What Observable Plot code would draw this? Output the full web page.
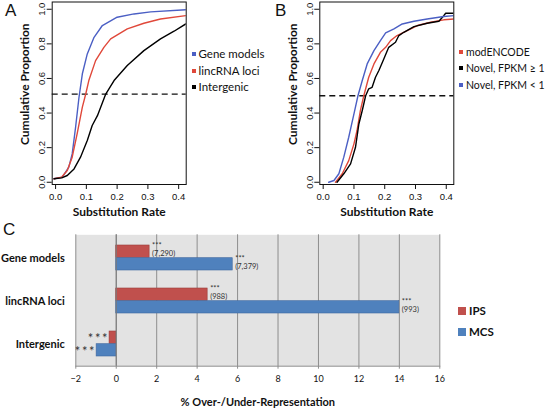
<!DOCTYPE html>
<html>
<head>
<meta charset="utf-8">
<script src="https://cdn.jsdelivr.net/npm/d3@7"></script>
<script src="https://cdn.jsdelivr.net/npm/@observablehq/plot@0.6"></script>
<style>
  html, body { margin: 0; padding: 0; background: #fff; }
  #root { position: relative; width: 548px; height: 408px; overflow: hidden; background: #fff; }
  #root svg { position: absolute; overflow: visible; }
  .lbl { position: absolute; font-family: "Liberation Sans", Arial, sans-serif; font-size: 17px; color: #111; line-height: 1; }
  .leg { position: absolute; font-family: Lato, "Open Sans", sans-serif; font-size: 11.5px; color: #111; white-space: nowrap; }
  .leg.small { font-size: 10.5px; }
  .leg .it { position: absolute; left: 0; white-space: nowrap; line-height: 1; }
  .leg .sw { display: inline-block; width: 4px; height: 4px; margin-right: 3px; vertical-align: middle; position: relative; top: -1px; }
  .legC { position: absolute; font-family: Lato, "Open Sans", sans-serif; font-size: 11.5px; font-weight: bold; color: #111; }
  .legC .it { position: absolute; left: 0; white-space: nowrap; line-height: 1; }
  .legC .sw { display: inline-block; width: 8px; height: 8px; margin-right: 3px; vertical-align: middle; position: relative; top: -1px; }
</style>
</head>
<body>
<div id="root"></div>
<script>
// ---------- Panel A data ----------
const seriesA = ["Gene models", "lincRNA loci", "Intergenic"];
const colorsA = ["#4b5fc4", "#e0483a", "#000000"];
const geneModelsX = [-0.005, 0.022, 0.043, 0.054, 0.065, 0.076, 0.087, 0.103, 0.125, 0.152, 0.2, 0.255, 0.309, 0.423];
const geneModelsY = [0.02, 0.03, 0.087, 0.164, 0.318, 0.49, 0.627, 0.742, 0.838, 0.906, 0.954, 0.973, 0.985, 0.997];
const lincX = [-0.005, 0.02, 0.038, 0.054, 0.07, 0.087, 0.098, 0.108, 0.13, 0.157, 0.179, 0.233, 0.287, 0.341, 0.423];
const lincY = [0.02, 0.03, 0.068, 0.145, 0.28, 0.434, 0.51, 0.588, 0.703, 0.78, 0.829, 0.887, 0.919, 0.944, 0.963];
const intergenicX = [-0.005, 0.02, 0.038, 0.06, 0.081, 0.103, 0.119, 0.136, 0.163, 0.19, 0.233, 0.287, 0.341, 0.385, 0.423];
const intergenicY = [0.02, 0.025, 0.039, 0.077, 0.145, 0.241, 0.328, 0.385, 0.51, 0.588, 0.675, 0.761, 0.829, 0.873, 0.915];
const medianA = 0.51;

// ---------- Panel B data ----------
const seriesB = ["modENCODE", "Novel, FPKM \u2265 1", "Novel, FPKM < 1"];
const colorsB = ["#e0483a", "#000000", "#4b5fc4"];
const modencodeX = [0.04, 0.062, 0.083, 0.1, 0.11, 0.121, 0.132, 0.148, 0.165, 0.186, 0.203, 0.219, 0.24, 0.273, 0.306, 0.349, 0.392, 0.425];
const modencodeY = [0, 0.049, 0.125, 0.222, 0.299, 0.415, 0.5, 0.607, 0.684, 0.751, 0.78, 0.819, 0.848, 0.877, 0.906, 0.925, 0.939, 0.944];
const novelHighX = [0.045, 0.067, 0.089, 0.105, 0.116, 0.127, 0.138, 0.148, 0.159, 0.17, 0.181, 0.197, 0.213, 0.235, 0.246, 0.262, 0.295, 0.338, 0.376, 0.392, 0.398, 0.425];
const novelHighY = [0, 0.049, 0.106, 0.202, 0.337, 0.415, 0.5, 0.54, 0.549, 0.607, 0.646, 0.713, 0.78, 0.809, 0.848, 0.867, 0.9, 0.919, 0.931, 0.963, 0.977, 0.977];
const novelLowX = [0.018, 0.035, 0.051, 0.067, 0.083, 0.1, 0.113, 0.127, 0.143, 0.165, 0.186, 0.203, 0.23, 0.257, 0.295, 0.338, 0.392, 0.425];
const novelLowY = [0, 0.01, 0.049, 0.145, 0.26, 0.395, 0.5, 0.588, 0.684, 0.761, 0.819, 0.863, 0.887, 0.915, 0.931, 0.944, 0.958, 0.963];
const medianB = 0.5;

const cdfXTicks = [0, 0.1, 0.2, 0.3, 0.4];
const cdfYTicks = [0, 0.2, 0.4, 0.6, 0.8, 1.0];
const cdfXTitle = "Substitution Rate";
const cdfYTitle = "Cumulative Proportion";

// ---------- Panel C data ----------
const categoriesC = ["Gene models", "lincRNA loci", "Intergenic"];
const seriesC = ["IPS", "MCS"];
const colorsC = ["#c0504d", "#4f81bd"];
const strokesC = ["#9a3d3a", "#3f68a0"];
const ipsValues = [1.65, 4.52, -0.33];
const mcsValues = [5.76, 14.0, -0.97];
const ipsCounts = ["(7,290)", "(988)", ""];
const mcsCounts = ["(7,379)", "(993)", ""];
const significance = ["***", "***", "***"];
const xTicksC = [-2, 0, 2, 4, 6, 8, 10, 12, 14, 16];
const xTitleC = "% Over-/Under-Representation";

// ---------- build tables ----------
function toRows(name, xs, ys) { return xs.map((x, i) => ({series: name, x, y: ys[i]})); }
const dataA = [
  ...toRows(seriesA[0], geneModelsX, geneModelsY),
  ...toRows(seriesA[1], lincX, lincY),
  ...toRows(seriesA[2], intergenicX, intergenicY)
];
const dataB = [
  ...toRows(seriesB[0], modencodeX, modencodeY),
  ...toRows(seriesB[1], novelHighX, novelHighY),
  ...toRows(seriesB[2], novelLowX, novelLowY)
];
const ipsRows = categoriesC.map((c, i) => ({category: c, value: ipsValues[i], stars: significance[i], count: ipsCounts[i]}));
const mcsRows = categoriesC.map((c, i) => ({category: c, value: mcsValues[i], stars: significance[i], count: mcsCounts[i]}));
const spacedStars = s => s.split("").join("\u2009");

const root = document.getElementById("root");

function cdfPlot(data, series, colors, median, opts) {
  return Plot.plot({
    width: opts.width, height: 218,
    marginLeft: opts.ml, marginRight: opts.mr, marginTop: 1.5, marginBottom: 34,
    x: {domain: [-0.011, 0.4245]},
    y: {domain: [-0.013, 1.042]},
    color: {domain: series, range: colors},
    style: {fontFamily: "'Liberation Sans', Arial, sans-serif", fontSize: "9.5px", background: "transparent", color: "#111"},
    marks: [
      Plot.ruleY([median], {strokeDasharray: "6,4", strokeWidth: 1.3, stroke: "#111"}),
      Plot.line(data, {x: "x", y: "y", z: "series", stroke: "series", strokeWidth: 1.4, clip: true}),
      Plot.frame({stroke: "#111", strokeWidth: 1}),
      Plot.axisX({ticks: cdfXTicks, tickFormat: d3.format(".1f"), tickSize: 5, tickPadding: 4, label: null}),
      Plot.axisY({ticks: cdfYTicks, tickFormat: d3.format(".1f"), tickSize: 5, tickRotate: -90, tickPadding: 2, label: null}),
      Plot.text([cdfXTitle], {frameAnchor: "bottom", text: d => d, dy: 28, lineAnchor: "middle", textAnchor: "middle",
        fontFamily: "Lato, 'Open Sans', sans-serif", fontWeight: "bold", fontSize: 12}),
      Plot.text([cdfYTitle], {frameAnchor: "left", text: d => d, dx: -27, dy: -9, rotate: -90, lineAnchor: "middle", textAnchor: "middle",
        fontFamily: "Lato, 'Open Sans', sans-serif", fontWeight: "bold", fontSize: 12})
    ]
  });
}

const svgA = cdfPlot(dataA, seriesA, colorsA, medianA, {width: 270, ml: 51.7, mr: 84.3});
svgA.style.left = "0px"; svgA.style.top = "0px";
root.appendChild(svgA);

const svgB = cdfPlot(dataB, seriesB, colorsB, medianB, {width: 280, ml: 51.3, mr: 94.7});
svgB.style.left = "268px"; svgB.style.top = "0px";
root.appendChild(svgB);

// ---------- Panel C ----------
const bandC = 25.4;
const halfC = bandC / 2;
const svgC = Plot.plot({
  width: 548, height: 182,
  marginLeft: 75.3, marginRight: 108.7, marginTop: 8.3, marginBottom: 42.3,
  x: {domain: [-2, 16]},
  y: {domain: categoriesC, paddingInner: 0.42, paddingOuter: 0.21},
  style: {fontFamily: "Lato, 'Open Sans', sans-serif", fontSize: "9px", background: "transparent", color: "#111"},
  marks: [
    Plot.frame({fill: "#e3e3e3", stroke: null}),
    Plot.ruleX(xTicksC, {stroke: "#8e8e8e", strokeWidth: 1, insetBottom: -3}),
    Plot.frame({anchor: "bottom", stroke: "#8e8e8e"}),
    Plot.barX(ipsRows, {x: "value", y: "category", fill: colorsC[0], stroke: strokesC[0], strokeWidth: 0.6, insetBottom: halfC}),
    Plot.barX(mcsRows, {x: "value", y: "category", fill: colorsC[1], stroke: strokesC[1], strokeWidth: 0.6, insetTop: halfC}),
    Plot.ruleX([0], {stroke: "#7a7a7a", strokeWidth: 1}),
    Plot.text(ipsRows.filter(d => d.value > 0), {x: "value", y: "category", text: d => d.stars + "\n" + d.count,
      dx: 2.5, dy: -halfC / 2 - 2, textAnchor: "start", lineAnchor: "middle", lineHeight: 1, fontSize: 7.5, fill: "#333"}),
    Plot.text(mcsRows.filter(d => d.value > 0), {x: "value", y: "category", text: d => d.stars + "\n" + d.count,
      dx: 2.5, dy: halfC / 2 - 2, textAnchor: "start", lineAnchor: "middle", lineHeight: 1, fontSize: 7.5, fill: "#333"}),
    Plot.text(ipsRows.filter(d => d.value < 0), {x: "value", y: "category", text: d => spacedStars(d.stars),
      dx: -2, dy: -halfC / 2 + 1, textAnchor: "end", lineAnchor: "middle", fontSize: 13, fill: "#333"}),
    Plot.text(mcsRows.filter(d => d.value < 0), {x: "value", y: "category", text: d => spacedStars(d.stars),
      dx: -2, dy: halfC / 2 + 1, textAnchor: "end", lineAnchor: "middle", fontSize: 13, fill: "#333"}),
    Plot.axisX({ticks: xTicksC, tickSize: 0, tickPadding: 9, label: null}),
    Plot.axisY({tickSize: 0, tickPadding: 11, label: null, fontWeight: "bold", fontSize: 11}),
    Plot.text([xTitleC], {frameAnchor: "bottom", text: d => d, dy: 36, lineAnchor: "middle", textAnchor: "middle",
      fontWeight: "bold", fontSize: 11})
  ]
});
svgC.style.left = "0px"; svgC.style.top = "226px";
root.appendChild(svgC);

// ---------- panel letters ----------
function addLabel(t, x, y) {
  const d = document.createElement("div");
  d.className = "lbl"; d.textContent = t;
  d.style.left = x + "px"; d.style.top = y + "px";
  root.appendChild(d);
}
addLabel("A", 5, 2);
addLabel("B", 275, 2);
addLabel("C", 3, 221);

// ---------- legends ----------
function addLegend(cls, series, colors, left, tops) {
  const box = document.createElement("div");
  box.className = cls;
  box.style.left = left + "px"; box.style.top = "0px";
  series.forEach((s, i) => {
    const it = document.createElement("div");
    it.className = "it";
    it.style.top = tops[i] + "px";
    const sw = document.createElement("span");
    sw.className = "sw"; sw.style.background = colors[i];
    it.appendChild(sw);
    it.appendChild(document.createTextNode(s));
    box.appendChild(it);
  });
  root.appendChild(box);
}
addLegend("leg", seriesA, colorsA, 191.5, [47.5, 64.5, 80.5]);
addLegend("leg small", seriesB, colorsB, 459, [46.5, 63, 80]);
addLegend("legC", seriesC, colorsC, 458, [304.5, 325.5]);
</script>
</body>
</html>
